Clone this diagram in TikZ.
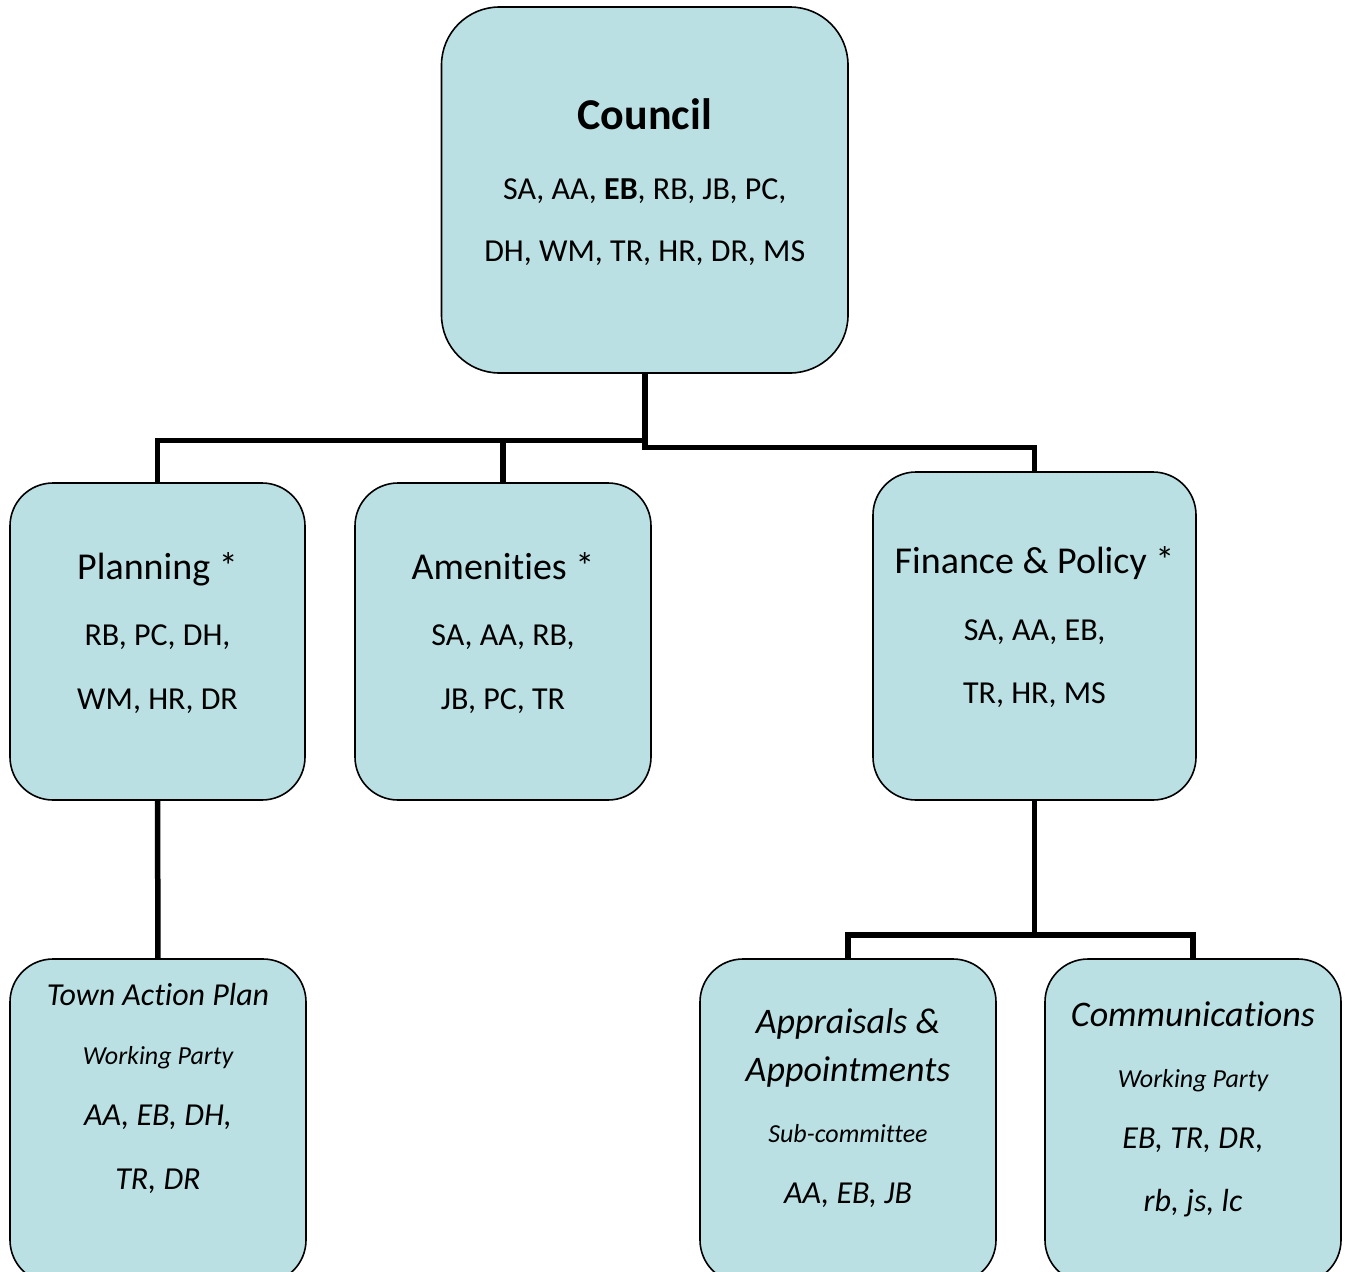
\documentclass[tikz,border=0pt]{standalone}
\usepackage{fontspec}
\setmainfont{Carlito}[Ligatures=NoCommon]
\usetikzlibrary{positioning,calc}
\definecolor{boxfill}{HTML}{BAE0E3}

\tikzset{
  box/.style={draw, line width=1.6pt, fill=boxfill, rounded corners=43pt,
    inner sep=0pt, outer sep=0pt},
  link/.style={line width=5.5pt},
  head/.style={anchor=base, inner sep=0pt, font=\fontsize{38}{44}\selectfont},
  names/.style={anchor=base, inner sep=0pt, font=\fontsize{32}{38}\selectfont},
  ihead/.style={anchor=base, inner sep=0pt, font=\fontsize{36}{42}\selectfont\itshape},
  inames/.style={anchor=base, inner sep=0pt, font=\fontsize{32}{38}\selectfont\itshape},
  isub/.style={anchor=base, inner sep=0pt, font=\fontsize{26}{30}\selectfont\itshape}
}

\begin{document}
\begin{tikzpicture}[x=1pt, y=-1pt]
\useasboundingbox (0,0) rectangle (1347,1272);
\clip (0,0) rectangle (1347,1272);

% boxes
\node [box, rounded corners=58pt, minimum width=406.5pt, minimum height=366pt] (council) at (644.75,190) {};
\node [box, minimum width=295pt, minimum height=317pt] (planning) at (157.5,641.5) {};
\node [box, minimum width=296pt, minimum height=317pt] (amenities) at (503,641.5) {};
\node [box, minimum width=323pt, minimum height=328pt] (finance) at (1034.5,636) {};
\node [box, minimum width=296pt, minimum height=324pt] (townplan) at (158,1121) {};
\node [box, minimum width=296pt, minimum height=324pt] (appraisals) at (848,1121) {};
\node [box, minimum width=296pt, minimum height=324pt] (comms) at (1193,1121) {};

% texts
\node [anchor=base, inner sep=0pt, font=\fontsize{44}{50}\selectfont\bfseries] (council-t) at (644.75,129) {Council};
\node [names] (council-a) at (644.75,199) {SA, AA, \textbf{EB}, RB, JB, PC,};
\node [names] (council-b) at (644.75,261) {DH, WM, TR, HR, DR, MS};

\node [head] (planning-t) at (157.5,579) {Planning *};
\node [names] (planning-a) at (157.5,645) {RB, PC, DH,};
\node [names] (planning-b) at (157.5,709) {WM, HR, DR};

\node [head] (amenities-t) at (503,579) {Amenities *};
\node [names] (amenities-a) at (503,645) {SA, AA, RB,};
\node [names] (amenities-b) at (503,709) {JB, PC, TR};

\node [head] (finance-t) at (1034.5,573) {Finance \& Policy *};
\node [names] (finance-a) at (1034.5,640) {SA, AA, EB,};
\node [names] (finance-b) at (1034.5,703) {TR, HR, MS};

\node [inames] (townplan-t) at (158,1005) {Town Action Plan};
\node [isub] (townplan-s) at (158,1064) {Working Party};
\node [inames] (townplan-a) at (158,1125) {AA, EB, DH,};
\node [inames] (townplan-b) at (158,1189) {TR, DR};

\node [ihead] (appraisals-t) at (848,1033) {Appraisals \&};
\node [ihead] (appraisals-u) at (848,1081) {Appointments};
\node [isub] (appraisals-s) at (848,1142) {Sub-committee};
\node [inames] (appraisals-a) at (848,1203) {AA, EB, JB};

\node [ihead] (comms-t) at (1193,1026) {Communications};
\node [isub] (comms-s) at (1193,1087) {Working Party};
\node [inames] (comms-a) at (1193,1148) {EB, TR, DR,};
\node [inames] (comms-b) at (1193,1211) {rb, js, lc};

% connectors
\coordinate (lsplit) at (council.south |- 0,440.5);
\coordinate (rsplit) at (council.south |- 0,447.5);
\coordinate (fsplit) at (finance.south |- 0,935);
\draw [link] (council.south) -- (rsplit) -| (finance.north);
\draw [link] (lsplit) -| (planning.north);
\draw [link] (lsplit) -| (amenities.north);
\draw [link] (planning.south) -- (townplan.north);
\draw [link] (finance.south) -- (fsplit);
\draw [link] (fsplit) -| (appraisals.north);
\draw [link] (fsplit) -| (comms.north);
\end{tikzpicture}
\end{document}
